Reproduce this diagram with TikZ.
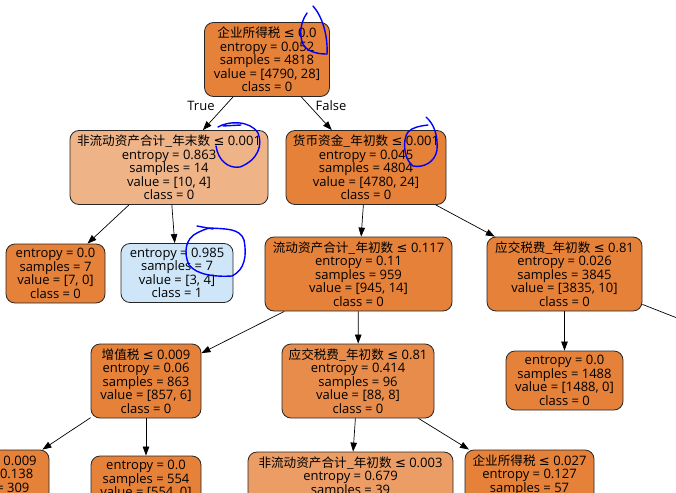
\documentclass[tikz,border=0pt]{standalone}
\usepackage{fontspec}
\setmainfont{Open Sans}
\newfontfamily\cjk[Scale=0.97]{Noto Sans CJK SC}
\newfontfamily\symf{DejaVu Sans}
\usetikzlibrary{arrows.meta}

\newcommand\zh[1]{{\cjk #1}}
\newcommand\leqsign{{\symf ≤}}

\definecolor{pureor}{HTML}{E58139}
\definecolor{paleor}{HTML}{EFB388}
\definecolor{midor}{HTML}{E78C4B}
\definecolor{lightor}{HTML}{EB9D65}
\definecolor{paleblue}{HTML}{CEE6F8}

\tikzset{
  treenode/.style={draw=black!85, line width=0.8pt, rounded corners=9pt, fill=pureor,
    align=center, inner sep=1pt, minimum height=74pt},
  leafnode/.style={treenode, minimum height=59pt},
  treeedge/.style={-{Triangle[length=9pt,width=6.5pt]}, line width=0.7pt},
  scribble/.style={blue, line width=1.4pt, line cap=round, line join=round}
}

\begin{document}
\begin{tikzpicture}[x=1pt, y=-1pt, font=\fontsize{13}{13.5}\selectfont]
\useasboundingbox (0,0) rectangle (676,492);
\clip (0,0) rectangle (676,492);

% level 0 and 1
\node[treenode, minimum width=125pt] (root) at (267,59.5) {\zh{企业所得税} \leqsign{} 0.0\\entropy = 0.052\\samples = 4818\\value = [4790, 28]\\class = 0};
\node[treenode, fill=paleor, minimum width=198pt] (lft) at (169,167.5) {\zh{非流动资产合计\_年末数} \leqsign{} 0.001\\entropy = 0.863\\samples = 14\\value = [10, 4]\\class = 0};
\node[treenode, minimum width=160pt] (rgt) at (366,167.5) {\zh{货币资金\_年初数} \leqsign{} 0.001\\entropy = 0.045\\samples = 4804\\value = [4780, 24]\\class = 0};

% level 2
\node[leafnode, minimum width=99pt] (leafa) at (55.5,273.5) {entropy = 0.0\\samples = 7\\value = [7, 0]\\class = 0};
\node[leafnode, fill=paleblue, minimum width=112pt] (leafb) at (177,273) {entropy = 0.985\\samples = 7\\value = [3, 4]\\class = 1};
\node[treenode, minimum width=187pt] (cur) at (358.5,274) {\zh{流动资产合计\_年初数} \leqsign{} 0.117\\entropy = 0.11\\samples = 959\\value = [945, 14]\\class = 0};
\node[treenode, minimum width=155pt] (taxr) at (564.5,274) {\zh{应交税费\_年初数} \leqsign{} 0.81\\entropy = 0.026\\samples = 3845\\value = [3835, 10]\\class = 0};

% level 3
\node[treenode, minimum width=110pt] (vat) at (146,381) {\zh{增值税} \leqsign{} 0.009\\entropy = 0.06\\samples = 863\\value = [857, 6]\\class = 0};
\node[treenode, fill=midor, minimum width=152pt] (taxm) at (358,381) {\zh{应交税费\_年初数} \leqsign{} 0.81\\entropy = 0.414\\samples = 96\\value = [88, 8]\\class = 0};
\node[leafnode, minimum width=117pt] (leafc) at (564.5,380.5) {entropy = 0.0\\samples = 1488\\value = [1488, 0]\\class = 0};
\coordinate (farr) at (838,381);

% level 4 (cut off at the bottom)
\node[treenode, minimum width=126pt] (part) at (-14,487) {\zh{固定资产} \leqsign{} 0.009\\entropy = 0.138\\samples = 309\\value = [306, 3]\\class = 0};
\node[leafnode, minimum width=110pt] (leafd) at (146,485.5) {entropy = 0.0\\samples = 554\\value = [554, 0]\\class = 0};
\node[treenode, fill=lightor, minimum width=205pt] (ncur) at (350.5,489) {\zh{非流动资产合计\_年初数} \leqsign{} 0.003\\entropy = 0.679\\samples = 39\\value = [32, 7]\\class = 0};
\node[treenode, minimum width=129pt] (inc) at (529.5,487) {\zh{企业所得税} \leqsign{} 0.027\\entropy = 0.127\\samples = 57\\value = [56, 1]\\class = 0};

% edges
\draw[treeedge] (root) -- (lft);
\draw[treeedge] (root) -- (rgt);
\node (tlab) at (201,106) {True};
\node (flab) at (331,106) {False};
\draw[treeedge] (lft) -- (leafa);
\draw[treeedge] (lft) -- (leafb);
\draw[treeedge] (rgt) -- (cur);
\draw[treeedge] (rgt) -- (taxr);
\draw[treeedge] (cur) -- (vat);
\draw[treeedge] (cur) -- (taxm);
\draw[treeedge] (taxr) -- (leafc);
\draw[treeedge] (taxr) -- (farr);
\draw[treeedge] (vat) -- (part);
\draw[treeedge] (vat) -- (leafd);
\draw[treeedge] (taxm) -- (ncur);
\draw[treeedge] (taxm) -- (inc);

% pen marks
\draw[scribble] (313,6) .. controls (322,16) and (328,35) .. (327,54);
\draw[scribble] (307,13) .. controls (299,24) and (299,40) .. (305,47) .. controls (311,53) and (320,54) .. (327,54);
\draw[scribble] (218,127) .. controls (228,121) and (250,120) .. (258,133) .. controls (263,145) and (258,160) .. (240,167) .. controls (228,169) and (218,160) .. (216,146);
\draw[scribble] (223,126) -- (241,125);
\draw[scribble] (426,117) .. controls (434,124) and (438,135) .. (437,150) .. controls (435,162) and (424,168) .. (413,166) .. controls (404,160) and (402,140) .. (408,132) .. controls (413,127) and (420,126) .. (428,125);
\draw[scribble] (197,226) -- (213,229);
\draw[scribble] (210,228) .. controls (225,229) and (240,228) .. (244,240) .. controls (247,255) and (245,270) .. (232,276) .. controls (215,277) and (197,275) .. (189,265) .. controls (183,252) and (186,238) .. (197,233) .. controls (201,231) and (205,229) .. (210,228);
\end{tikzpicture}
\end{document}
